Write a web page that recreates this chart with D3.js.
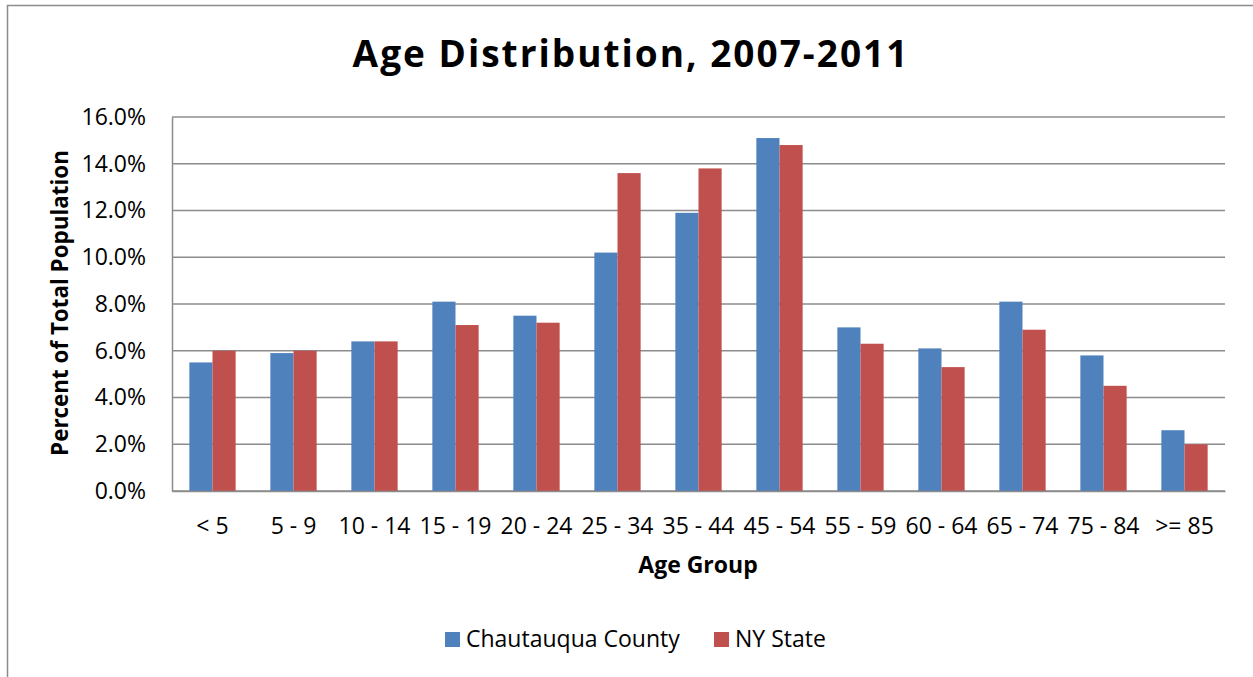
<!DOCTYPE html>
<html>
<head>
<meta charset="utf-8">
<script src="https://cdn.jsdelivr.net/npm/d3@7"></script>
<style>
  body { margin: 0; background: #fff; }
  text { font-family: "Open Sans", sans-serif; fill: #000; }
</style>
</head>
<body>
<div id="chart"></div>
<script>
var svgWidth = 1253;
var svgHeight = 677;

// data
var ageGroups = ["< 5", "5 - 9", "10 - 14", "15 - 19", "20 - 24", "25 - 34", "35 - 44",
  "45 - 54", "55 - 59", "60 - 64", "65 - 74", "75 - 84", ">= 85"];
var chautauqua = [5.5, 5.9, 6.4, 8.1, 7.5, 10.2, 11.9, 15.1, 7.0, 6.1, 8.1, 5.8, 2.6];
var nyState = [6.0, 6.0, 6.4, 7.1, 7.2, 13.6, 13.8, 14.8, 6.3, 5.3, 6.9, 4.5, 2.0];
var seriesNames = ["Chautauqua County", "NY State"];
var yTicks = [0, 2, 4, 6, 8, 10, 12, 14, 16];

var colors = ["#4F81BD", "#C0504D"];

var margin = { top: 117, right: 28, bottom: 186, left: 172 };
var width = svgWidth - margin.left - margin.right;
var height = svgHeight - margin.top - margin.bottom;

var svg = d3.select("#chart")
  .append("svg")
  .attr("width", svgWidth)
  .attr("height", svgHeight);

// outer chart border (only top and left visible in the reference)
svg.append("path")
  .attr("d", "M7.5,677 L7.5,5.5 L1253,5.5")
  .attr("fill", "none")
  .attr("stroke", "#8c8c8c")
  .attr("stroke-width", 1.5);

var chartGroup = svg.append("g")
  .attr("transform", `translate(${margin.left}, ${margin.top})`);

var x0 = d3.scaleBand()
  .domain(ageGroups)
  .range([0, width]);

// Excel gap width 150% -> each bar is band / 3.5
var x1 = d3.scaleBand()
  .domain([0, 1])
  .range([x0.bandwidth() * 0.75 / 3.5, x0.bandwidth() * (0.75 + 2) / 3.5]);

var y = d3.scaleLinear()
  .domain([0, 16])
  .range([height, 0]);

// gridlines
chartGroup.append("g")
  .selectAll("line")
  .data(yTicks)
  .enter()
  .append("line")
  .attr("x1", 0)
  .attr("x2", width)
  .attr("y1", d => y(d))
  .attr("y2", d => y(d))
  .attr("stroke", "#8c8c8c")
  .attr("stroke-width", 1.5);

// y axis
var leftAxis = d3.axisLeft(y)
  .tickValues(yTicks)
  .tickSize(0)
  .tickPadding(26)
  .tickFormat(d => d.toFixed(1) + "%");

var yAxis = chartGroup.append("g").call(leftAxis);
yAxis.select(".domain").attr("stroke", "#8c8c8c").attr("stroke-width", 1.5);
yAxis.selectAll("text").attr("font-size", 23).attr("font-family", "Open Sans");

// bars
var series = [chautauqua, nyState];
series.forEach(function(vals, i) {
  chartGroup.append("g")
    .selectAll("rect")
    .data(vals)
    .enter()
    .append("rect")
    .attr("x", (d, j) => x0(ageGroups[j]) + x1(i))
    .attr("width", x1.bandwidth())
    .attr("y", d => y(d))
    .attr("height", d => height - y(d))
    .attr("fill", colors[i]);
});

// x axis
var bottomAxis = d3.axisBottom(x0).tickSize(0).tickPadding(27);
var xAxis = chartGroup.append("g")
  .attr("transform", `translate(0, ${height})`)
  .call(bottomAxis);
xAxis.select(".domain").attr("stroke", "#8c8c8c").attr("stroke-width", 1.5);
xAxis.selectAll("text").attr("font-size", 23).attr("font-family", "Open Sans");

// title
svg.append("text")
  .attr("x", 631)
  .attr("y", 67)
  .attr("text-anchor", "middle")
  .attr("font-size", 37)
  .attr("letter-spacing", 2)
  .attr("font-weight", "bold")
  .text("Age Distribution, 2007-2011");

// axis titles
svg.append("text")
  .attr("x", 698)
  .attr("y", 573)
  .attr("text-anchor", "middle")
  .attr("font-size", 23)
  .attr("font-weight", "bold")
  .text("Age Group");

svg.append("text")
  .attr("transform", "translate(68, 303) rotate(-90)")
  .attr("text-anchor", "middle")
  .attr("font-size", 22.4)
  .attr("font-weight", "bold")
  .text("Percent of Total Population");

// legend
var legendX = [445, 714];
var legend = svg.append("g");
seriesNames.forEach(function(name, i) {
  legend.append("rect")
    .attr("x", legendX[i])
    .attr("y", 632)
    .attr("width", 15)
    .attr("height", 15)
    .attr("fill", colors[i]);
  legend.append("text")
    .attr("x", legendX[i] + 21)
    .attr("y", 647)
    .attr("font-size", 23)
    .text(name);
});
</script>
</body>
</html>
